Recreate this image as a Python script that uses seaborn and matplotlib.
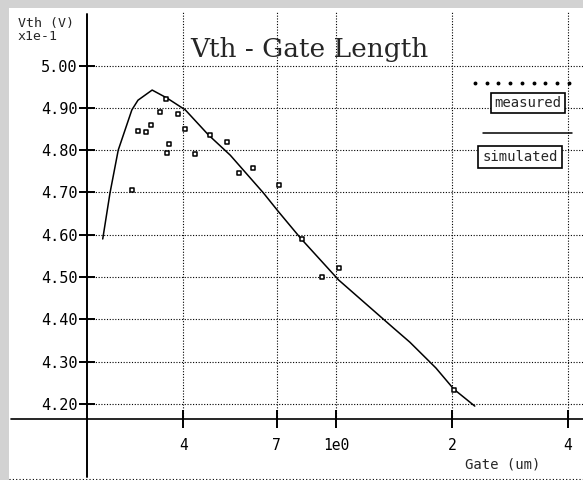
import matplotlib
matplotlib.use("Agg")
import matplotlib.pyplot as plt
import seaborn as sns
import pandas as pd
from matplotlib.lines import Line2D
from matplotlib.patches import Rectangle

# ---- data ----
sim_x = [0.247, 0.258, 0.271, 0.294, 0.305, 0.332, 0.363, 0.405, 0.465, 0.530,
         0.646, 0.708, 0.807, 1.014, 1.41, 1.553, 1.815, 2.02, 2.29]
sim_y = [4.590, 4.699, 4.800, 4.895, 4.918, 4.942, 4.923, 4.895, 4.836, 4.788,
         4.699, 4.654, 4.592, 4.493, 4.379, 4.346, 4.285, 4.235, 4.195]

meas_x = [0.294, 0.305, 0.320, 0.330, 0.348, 0.361, 0.368, 0.363, 0.388, 0.405,
          0.430, 0.468, 0.521, 0.560, 0.608, 0.708, 0.812, 0.916, 1.014, 2.02]
meas_y = [4.705, 4.845, 4.842, 4.860, 4.891, 4.920, 4.814, 4.793, 4.885, 4.850,
          4.791, 4.835, 4.820, 4.747, 4.757, 4.717, 4.590, 4.500, 4.522, 4.233]

x_ticks = [0.4, 0.7, 1.0, 2.0, 4.0]
x_tick_labels = ["4", "7", "1e0", "2", "4"]
y_ticks = [4.20, 4.30, 4.40, 4.50, 4.60, 4.70, 4.80, 4.90, 5.00]

title = "Vth - Gate Length"
y_label_1 = "Vth (V)"
y_label_2 = "x1e-1"
x_label = "Gate (um)"
legend_labels = ["measured", "simulated"]

sim_df = pd.DataFrame({"gate": sim_x, "vth": sim_y})
meas_df = pd.DataFrame({"gate": meas_x, "vth": meas_y})

sns.set_style("white")
plt.rcParams["font.family"] = ["DejaVu Sans Mono", "DejaVu Sans"]

W, H = 583, 480
fig = plt.figure(figsize=(W / 100, H / 100), dpi=100)

def fx(px):
    return px / W

def fy(py):
    return 1 - py / H

# axes area in pixels
ax_l, ax_r, ax_t, ax_b = 87, 583, 12, 419
ax = fig.add_axes([fx(ax_l), fy(ax_b), (ax_r - ax_l) / W, (ax_b - ax_t) / H])
ax.set_facecolor("white")

sns.lineplot(data=sim_df, x="gate", y="vth", sort=False, color="black",
             linewidth=1.1, ax=ax, legend=False)
sns.scatterplot(data=meas_df, x="gate", y="vth", marker="s", s=10,
                facecolor="white", edgecolor="black", linewidth=1.1,
                ax=ax, legend=False, zorder=3)

ax.set_xscale("log")
ax.set_xlim(0.2248, 4.377)
ax.set_ylim(4.1645, 5.1265)
ax.set_xticks(x_ticks)
ax.set_xticklabels(x_tick_labels)
ax.xaxis.set_minor_locator(matplotlib.ticker.NullLocator())
ax.set_yticks(y_ticks)
ax.set_yticklabels([f"{v:.2f}" for v in y_ticks])
ax.set_xlabel("")
ax.set_ylabel("")

ax.grid(True, which="major", color="black", linestyle=(0, (1, 1.5)), linewidth=0.8)
for s in ax.spines.values():
    s.set_visible(False)

ax.tick_params(axis="y", direction="inout", length=11, width=1.4, pad=1.5,
               labelsize=11, left=True, colors="black")
ax.tick_params(axis="x", direction="inout", length=13, width=1.4, pad=7,
               labelsize=10.5, bottom=True, colors="black")

# cross-style axis lines
fig.add_artist(Line2D([fx(87), fx(87)], [fy(14), fy(477)], color="black", lw=1.4))
fig.add_artist(Line2D([fx(11), fx(583)], [fy(419), fy(419)], color="black", lw=1.2))

# stippled border (left / top) and dotted bottom line
fig.add_artist(Rectangle((0, 0), fx(9), 1, transform=fig.transFigure,
                         facecolor="#d2d2d2", edgecolor="none", zorder=0))
fig.add_artist(Rectangle((0, fy(8)), 1, 8 / H, transform=fig.transFigure,
                         facecolor="#d2d2d2", edgecolor="none", zorder=0))
fig.add_artist(Line2D([fx(9), fx(583)], [fy(478.5), fy(478.5)], color="black",
                      lw=0.8, linestyle=(0, (1, 2))))

# texts
fig.text(fx(309), fy(57), title, ha="center", va="baseline",
         fontsize=19, family=["DejaVu Serif", "Liberation Serif"])
fig.text(fx(18), fy(17), y_label_1, ha="left", va="top", fontsize=9.5)
fig.text(fx(18), fy(30), y_label_2, ha="left", va="top", fontsize=9.5)
fig.text(fx(503), fy(465), x_label, ha="center", va="center", fontsize=10)

# legend (drawn manually, matching the original layout)
dots_x = [fx(475 + i * 11.7) for i in range(9)]
fig.add_artist(Line2D(dots_x, [fy(83)] * len(dots_x), color="black",
                      linestyle="none", marker="o", markersize=1.8))
fig.text(fx(528), fy(103), legend_labels[0], ha="center", va="center",
         fontsize=10,
         bbox=dict(boxstyle="square,pad=0.25", facecolor="white",
                   edgecolor="black", linewidth=1.2))
fig.add_artist(Line2D([fx(483), fx(572)], [fy(133), fy(133)], color="black",
                      lw=1.1))
fig.text(fx(520), fy(157), legend_labels[1], ha="center", va="center",
         fontsize=10,
         bbox=dict(boxstyle="square,pad=0.3", facecolor="white",
                   edgecolor="black", linewidth=1.2))

fig.savefig("out.png", dpi=100, facecolor="white")
